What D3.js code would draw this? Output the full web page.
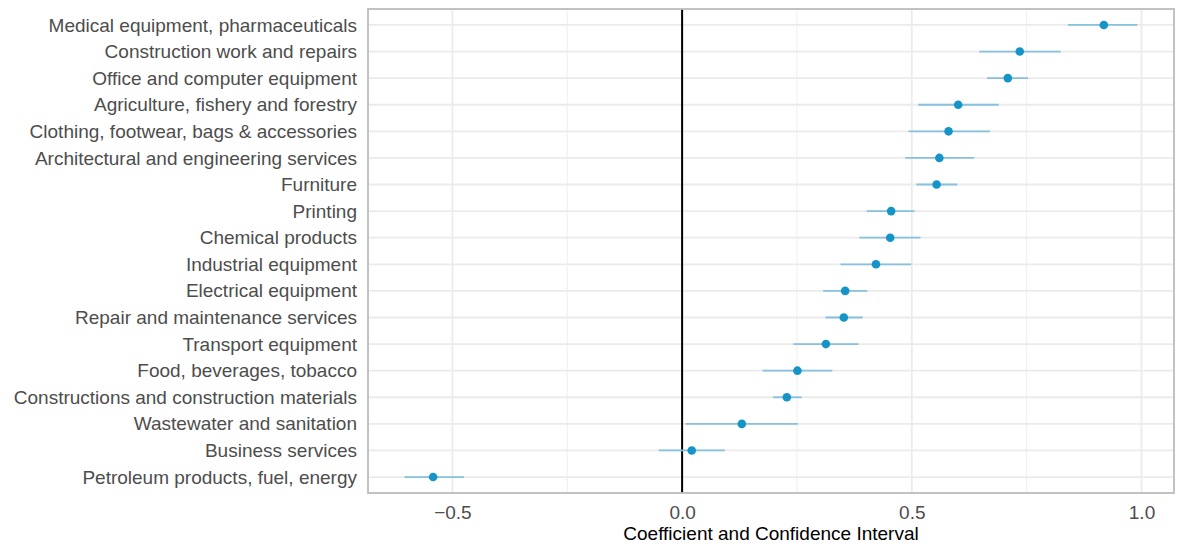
<!DOCTYPE html>
<html>
<head>
<meta charset="utf-8">
<script src="https://cdn.jsdelivr.net/npm/d3@7"></script>
<style>
  html, body { margin: 0; padding: 0; background: #fff; }
  svg { display: block; }
  text { font-family: "Liberation Sans", Arial, sans-serif; }
</style>
</head>
<body>
<svg id="chart" width="1177" height="548"></svg>
<script>
const categories = [
  "Medical equipment, pharmaceuticals",
  "Construction work and repairs",
  "Office and computer equipment",
  "Agriculture, fishery and forestry",
  "Clothing, footwear, bags & accessories",
  "Architectural and engineering services",
  "Furniture",
  "Printing",
  "Chemical products",
  "Industrial equipment",
  "Electrical equipment",
  "Repair and maintenance services",
  "Transport equipment",
  "Food, beverages, tobacco",
  "Constructions and construction materials",
  "Wastewater and sanitation",
  "Business services",
  "Petroleum products, fuel, energy"
];
const estimates = [0.918, 0.735, 0.709, 0.601, 0.580, 0.560, 0.554, 0.455, 0.453, 0.422, 0.355, 0.352, 0.313, 0.251, 0.228, 0.130, 0.021, -0.542];
const ciLow     = [0.840, 0.647, 0.664, 0.514, 0.493, 0.486, 0.510, 0.402, 0.386, 0.345, 0.307, 0.312, 0.242, 0.175, 0.198, 0.007, -0.051, -0.604];
const ciHigh    = [0.991, 0.824, 0.753, 0.689, 0.670, 0.636, 0.599, 0.506, 0.519, 0.499, 0.403, 0.393, 0.384, 0.327, 0.260, 0.252, 0.093, -0.475];
const majorTicks = [-0.5, 0.0, 0.5, 1.0];
const minorTicks = [-0.25, 0.25, 0.75];
const xTitle = "Coefficient and Confidence Interval";

const data = categories.map((c, i) => ({ cat: c, est: estimates[i], lo: ciLow[i], hi: ciHigh[i] }));

const svg = d3.select("#chart");
const panel = { left: 368, right: 1174, top: 9, bottom: 493 };
const FS = 19;

const lo = d3.min(ciLow), hi = d3.max(ciHigh);
const pad = (hi - lo) * 0.05;
const x = d3.scaleLinear().domain([lo - pad, hi + pad]).range([panel.left, panel.right]);
const y = d3.scalePoint().domain(categories).range([panel.top, panel.bottom]).padding(0.6);

const g = svg.append("g");

// minor vertical grid
g.selectAll("line.minor").data(minorTicks).join("line")
  .attr("x1", d => x(d)).attr("x2", d => x(d))
  .attr("y1", panel.top).attr("y2", panel.bottom)
  .attr("stroke", "#efefef").attr("stroke-width", 1);

// major vertical grid
g.selectAll("line.majorx").data(majorTicks).join("line")
  .attr("x1", d => x(d)).attr("x2", d => x(d))
  .attr("y1", panel.top).attr("y2", panel.bottom)
  .attr("stroke", "#ebebeb").attr("stroke-width", 1.8);

// horizontal grid
g.selectAll("line.majory").data(categories).join("line")
  .attr("x1", panel.left).attr("x2", panel.right)
  .attr("y1", d => y(d)).attr("y2", d => y(d))
  .attr("stroke", "#ebebeb").attr("stroke-width", 1.8);

// zero line
g.append("line")
  .attr("x1", x(0)).attr("x2", x(0))
  .attr("y1", panel.top).attr("y2", panel.bottom)
  .attr("stroke", "#000").attr("stroke-width", 2);

// CI
g.selectAll("line.ci").data(data).join("line")
  .attr("x1", d => x(d.lo)).attr("x2", d => x(d.hi))
  .attr("y1", d => y(d.cat)).attr("y2", d => y(d.cat))
  .attr("stroke", "#86c2dd").attr("stroke-width", 1.8);

// points
g.selectAll("circle").data(data).join("circle")
  .attr("cx", d => x(d.est)).attr("cy", d => y(d.cat))
  .attr("r", 4.3).attr("fill", "#1594c8");

// border
g.append("rect")
  .attr("x", panel.left).attr("y", panel.top)
  .attr("width", panel.right - panel.left).attr("height", panel.bottom - panel.top)
  .attr("fill", "none").attr("stroke", "#bcbcbc").attr("stroke-width", 1.8);

// y axis labels
const yAxis = d3.axisLeft(y).tickSize(0).tickPadding(11);
const ya = svg.append("g").attr("transform", `translate(${panel.left},0)`).call(yAxis);
ya.select(".domain").remove();
ya.selectAll("text").attr("font-size", FS).attr("fill", "#4d4d4d")
  .style("font-family", "'Liberation Sans', Arial, sans-serif");

// x axis labels
const xAxis = d3.axisBottom(x).tickValues(majorTicks).tickSize(0).tickPadding(13)
  .tickFormat(d => d3.format(".1f")(d).replace("-", "\u2212"));
const xa = svg.append("g").attr("transform", `translate(0,${panel.bottom})`).call(xAxis);
xa.select(".domain").remove();
xa.selectAll("text").attr("font-size", FS).attr("fill", "#4d4d4d")
  .style("font-family", "'Liberation Sans', Arial, sans-serif");

// x title
svg.append("text")
  .attr("x", (panel.left + panel.right) / 2).attr("y", 540)
  .attr("text-anchor", "middle").attr("font-size", FS).attr("fill", "#000")
  .text(xTitle);
</script>
</body>
</html>
